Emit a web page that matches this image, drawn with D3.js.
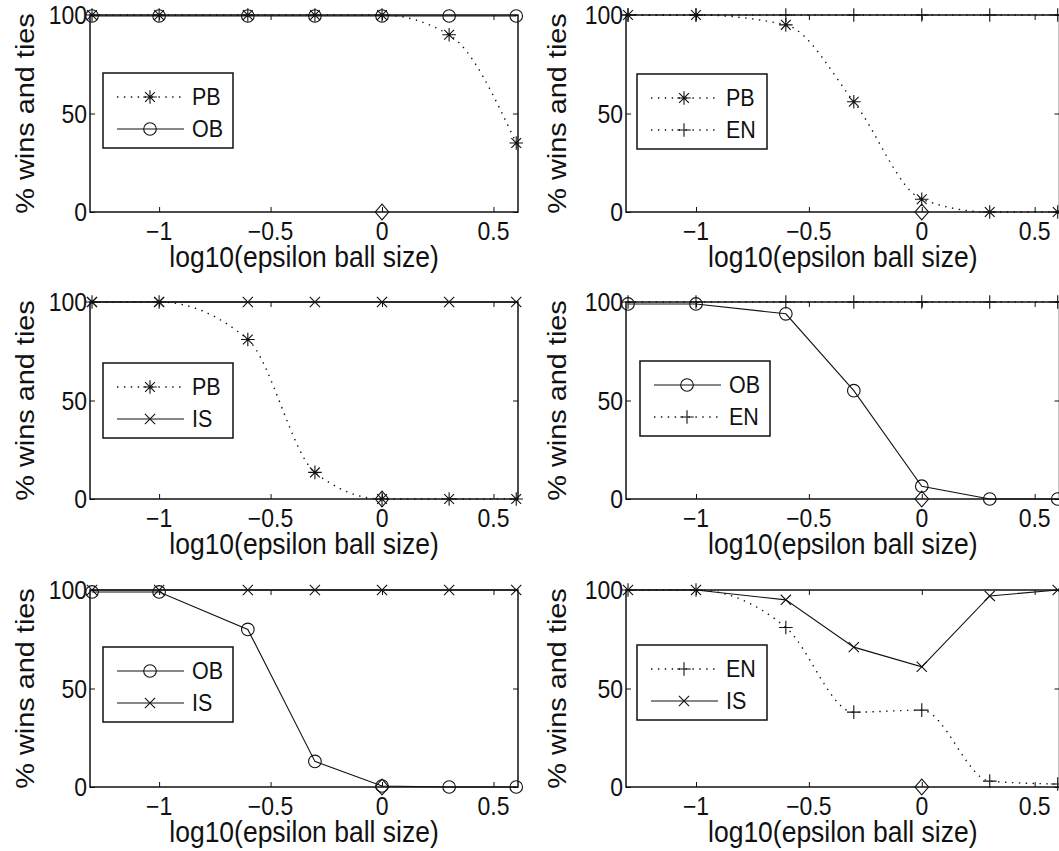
<!DOCTYPE html>
<html>
<head>
<meta charset="utf-8">
<script src="https://cdn.jsdelivr.net/npm/d3@7"></script>
<style>
  html, body { margin: 0; padding: 0; background: #fff; }
  svg { display: block; }
  text { font-family: "Liberation Sans", Arial, Helvetica, sans-serif; fill: #111; }
</style>
</head>
<body>
<svg id="chart" width="1059" height="851"></svg>
<script>
// ---------------- data ----------------
const ballSizes = [0.05, 0.1, 0.25, 0.5, 1, 2, 4];          // epsilon ball sizes (x = log10)
const xTickValues = [-1, -0.5, 0, 0.5];
const yTickValues = [0, 50, 100];
const xLabel = "log10(epsilon ball size)";
const yLabel = "% wins and ties";
const refPoint = [0, 0];                                     // diamond marker in every panel

// panel 1: PB vs OB
const p1_PB = [100, 100, 100, 100, 100, 90, 35];
const p1_OB = [99.5, 99.5, 99.5, 99.5, 99.5, 99.5, 99.5];
// panel 2: PB vs EN
const p2_PB = [100, 100, 95, 56, 6.5, 0, 0];
const p2_EN = [100, 100, 100, 100, 100, 100, 100];
// panel 3: PB vs IS
const p3_PB = [100, 100, 81, 13.5, 0, 0, 0];
const p3_IS = [100, 100, 100, 100, 100, 100, 100];
// panel 4: OB vs EN
const p4_OB = [99, 99, 94, 55, 6.5, 0, 0];
const p4_EN = [100, 100, 100, 100, 100, 100, 100];
// panel 5: OB vs IS
const p5_OB = [99, 99, 80, 13, 0.5, 0, 0];
const p5_IS = [100, 100, 100, 100, 100, 100, 100];
// panel 6: EN vs IS
const p6_EN = [100, 100, 81, 38, 39, 3, 1.5];
const p6_IS = [100, 100, 95, 71, 61, 97, 100];

const panelsData = [
  [{ name: "PB", values: p1_PB }, { name: "OB", values: p1_OB }],
  [{ name: "PB", values: p2_PB }, { name: "EN", values: p2_EN }],
  [{ name: "PB", values: p3_PB }, { name: "IS", values: p3_IS }],
  [{ name: "OB", values: p4_OB }, { name: "EN", values: p4_EN }],
  [{ name: "OB", values: p5_OB }, { name: "IS", values: p5_IS }],
  [{ name: "EN", values: p6_EN }, { name: "IS", values: p6_IS }]
];

// ---------------- styles / layout ----------------
const styles = {
  PB: { dotted: true,  marker: "asterisk" },
  OB: { dotted: false, marker: "circle" },
  EN: { dotted: true,  marker: "plus" },
  IS: { dotted: false, marker: "cross" }
};

const layout = [
  { left: 90,  right: 518,    top: 15,  bottom: 212, labelX: 34,  legend: [103, 73] },
  { left: 626, right: 1059.5, top: 15,  bottom: 212, labelX: 566, legend: [637, 74] },
  { left: 90,  right: 518,    top: 302, bottom: 499, labelX: 34,  legend: [103, 363] },
  { left: 626, right: 1059.5, top: 302, bottom: 499, labelX: 566, legend: [640, 361] },
  { left: 90,  right: 518,    top: 590, bottom: 787, labelX: 34,  legend: [103, 647] },
  { left: 626, right: 1059.5, top: 590, bottom: 787, labelX: 566, legend: [637, 645] }
];

const INK = "#111";
const STRETCH = 1.09;   // glyphs in the reference are slightly taller than wide
const svg = d3.select("#chart");
svg.append("rect").attr("width", 1059).attr("height", 851).attr("fill", "#fff");

const fmt = d3.format("~g");

function markerPath(type, s) {
  switch (type) {
    case "asterisk": {
      const d = s * 0.72;
      return `M${-s},0L${s},0M0,${-s}L0,${s}M${-d},${-d}L${d},${d}M${-d},${d}L${d},${-d}`;
    }
    case "plus":
      return `M${-s},0L${s},0M0,${-s}L0,${s}`;
    case "cross": {
      const d = s * 0.75;
      return `M${-d},${-d}L${d},${d}M${-d},${d}L${d},${-d}`;
    }
    case "diamond":
      return `M0,${-s * 1.15}L${s},0L0,${s * 1.15}L${-s},0Z`;
    default:
      return "";
  }
}

function drawMarker(g, type, cx, cy) {
  if (type === "circle") {
    g.append("circle").attr("cx", cx).attr("cy", cy).attr("r", 6.3)
      .attr("fill", "none").attr("stroke", INK).attr("stroke-width", 1.1);
  } else {
    g.append("path").attr("transform", `translate(${cx},${cy})`)
      .attr("d", markerPath(type, 6.8))
      .attr("fill", "none").attr("stroke", INK).attr("stroke-width", 1.1);
  }
}

panelsData.forEach((series, i) => {
  const L = layout[i];
  const x = d3.scaleLinear().domain([-1.31, 0.61]).range([L.left, L.right]);
  const y = d3.scaleLinear().domain([0, 100]).range([L.bottom, L.top]);
  const g = svg.append("g");

  // ticks (inward, all four sides)
  const noDomain = s => s.select(".domain").remove();
  g.append("g").attr("transform", `translate(0,${L.bottom})`)
    .call(d3.axisBottom(x).tickValues(xTickValues).tickSize(-5).tickFormat(""))
    .call(noDomain);
  g.append("g").attr("transform", `translate(0,${L.top})`)
    .call(d3.axisTop(x).tickValues(xTickValues).tickSize(-5).tickFormat(""))
    .call(noDomain);
  g.append("g").attr("transform", `translate(${L.left},0)`)
    .call(d3.axisLeft(y).tickValues(yTickValues).tickSize(-5).tickFormat(""))
    .call(noDomain);
  g.append("g").attr("transform", `translate(${L.right},0)`)
    .call(d3.axisRight(y).tickValues(yTickValues).tickSize(-5).tickFormat(""))
    .call(noDomain);
  g.selectAll(".tick line").attr("stroke", INK).attr("stroke-width", 1);

  // tick labels
  g.selectAll("text.xt").data(xTickValues).join("text").attr("class", "xt")
    .attr("transform", d => `translate(${x(d)},${L.bottom + 28}) scale(1,${STRETCH})`)
    .attr("text-anchor", "middle").attr("font-size", 23).text(d => fmt(d));
  g.selectAll("text.yt").data(yTickValues).join("text").attr("class", "yt")
    .attr("transform", d => `translate(${L.left - 3},${y(d)}) scale(1,${STRETCH})`)
    .attr("text-anchor", "end").attr("dy", "0.36em").attr("font-size", 23).text(d => fmt(d));

  // data
  series.forEach(s => {
    const st = styles[s.name];
    const pts = ballSizes.map((b, k) => [Math.log10(b), s.values[k]]);
    const line = d3.line().x(d => x(d[0])).y(d => y(d[1]))
      .curve(st.dotted ? d3.curveMonotoneX : d3.curveLinear);
    g.append("path").attr("d", line(pts)).attr("fill", "none").attr("stroke", INK)
      .attr("stroke-width", st.dotted ? 1.4 : 1.1)
      .attr("stroke-dasharray", st.dotted ? "1.4,5.5" : null);
    pts.forEach(p => drawMarker(g, st.marker, x(p[0]), y(p[1])));
  });
  drawMarker(g, "diamond", x(refPoint[0]), y(refPoint[1]));

  // box
  g.append("rect").attr("x", L.left).attr("y", L.top)
    .attr("width", L.right - L.left).attr("height", L.bottom - L.top)
    .attr("fill", "none").attr("stroke", INK).attr("stroke-width", 1.5);

  // axis labels
  g.append("text")
    .attr("transform", `translate(${(L.left + L.right) / 2},${L.bottom + 55}) scale(1,${STRETCH})`)
    .attr("text-anchor", "middle").attr("font-size", 26.5).text(xLabel);
  g.append("text")
    .attr("transform", `translate(${L.labelX},${(L.top + L.bottom) / 2}) rotate(-90) scale(${STRETCH},1)`)
    .attr("text-anchor", "middle").attr("font-size", 26.5).text(yLabel);

  // legend
  const [lx, ly] = L.legend;
  const lg = g.append("g").attr("transform", `translate(${lx},${ly})`);
  lg.append("rect").attr("width", 130).attr("height", 75)
    .attr("fill", "#fff").attr("stroke", INK).attr("stroke-width", 1.5);
  series.forEach((s, k) => {
    const st = styles[s.name];
    const cy = 24 + k * 32;
    lg.append("line").attr("x1", 14).attr("x2", 81).attr("y1", cy).attr("y2", cy)
      .attr("stroke", INK).attr("stroke-width", st.dotted ? 1.4 : 1.1)
      .attr("stroke-dasharray", st.dotted ? "1.4,5.5" : null);
    drawMarker(lg, st.marker, 47, cy);
    lg.append("text")
      .attr("transform", `translate(89,${cy}) scale(1,${STRETCH})`)
      .attr("dy", "0.36em").attr("font-size", 21.5).text(s.name);
  });
});
</script>
</body>
</html>
